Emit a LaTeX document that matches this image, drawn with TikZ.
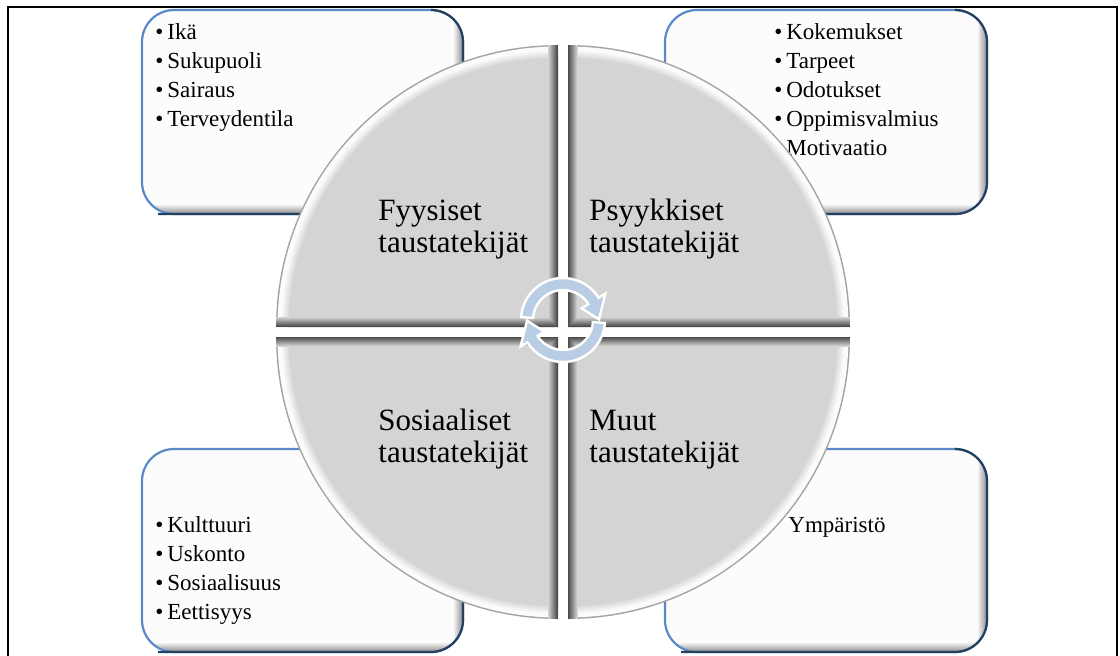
\documentclass[tikz,border=0pt]{standalone}
\usepackage{fontspec}
\setmainfont{Liberation Serif}
\usetikzlibrary{calc}
\definecolor{qFace}{HTML}{D4D4D4}
\definecolor{qRim}{HTML}{FBFBFB}
\definecolor{qEdge}{HTML}{A3A3A3}
\definecolor{qDark}{HTML}{3C3C3C}
\definecolor{bBlue}{HTML}{5A8AC6}
\definecolor{bNavy}{HTML}{24405F}
\definecolor{bFill}{HTML}{FCFCFC}
\definecolor{bShade}{HTML}{8A8A8A}
\definecolor{cBlue}{HTML}{B9CDE5}

\newcommand{\qR}{282}
% one bevelled quarter disc, corner at the origin, opening up and left
\newcommand{\quadface}{%
  \fill[qEdge] (0,0) -- (-\qR,0) arc[start angle=180, end angle=270, radius=\qR] -- cycle;
  \fill[qRim] (0,0) -- (-\qR+1.5,0) arc[start angle=180, end angle=270, radius=\qR-1.5] -- cycle;
  \foreach \j [evaluate=\j as \pc using int(100-12*\j)] in {0,...,8}
    \fill[qRim!\pc!qFace] (0,0) -- (-\qR+5+\j,0) arc[start angle=180, end angle=270, radius=\qR-5-\j] -- cycle;
  \begin{scope}
    \clip (0,0) -- (-\qR,0) arc[start angle=180, end angle=270, radius=\qR] -- cycle;
    \foreach \k [evaluate=\k as \pc using int(10*\k)] in {10,...,1} {
      \fill[qFace!\pc!qDark] (-\k,-\qR) rectangle (0,0);
      \fill[qFace!\pc!qDark] (-\qR,-\k) rectangle (0,0);
    }
  \end{scope}
  \begin{scope}
    \clip (-\qR,-\qR) rectangle (-10,-10);
    \fill[qFace] (0,0) -- (-\qR+13,0) arc[start angle=180, end angle=270, radius=\qR-13] -- cycle;
  \end{scope}
}
% #1 name, #2 #3 top left, #4 #5 bottom right
\newcommand{\infobox}[5]{%
  \coordinate (#1) at ({(#2+#4)/2},{(#3+#5)/2});
  \fill[bFill, rounded corners=16] (#2,#3) rectangle (#4,#5);
  \begin{scope}
    \clip[rounded corners=16] (#2,#3) rectangle (#4,#5);
    \foreach \k [evaluate=\k as \pc using int(10*\k)] in {10,...,1} {
      \fill[bFill!\pc!bShade] (#4-\k,#3) rectangle (#4,#5);
      \fill[bFill!\pc!bShade] (#2,#5-\k) rectangle (#4-\k,#5);
    }
  \end{scope}
  \draw[bBlue, line width=1.1pt, rounded corners=16] (#2,#3) rectangle (#4,#5);
  \draw[bNavy, line width=1.1pt, rounded corners=16] (#4-30,#3) -- (#4,#3) -- (#4,#5) -- (#2+16,#5);
}

\begin{document}
\begin{tikzpicture}[x=0.5pt, y=-0.5pt,
    item/.style={anchor=base west, inner sep=0pt, font=\fontsize{11.5}{14}\selectfont},
    qlabel/.style={anchor=base west, inner sep=0pt, font=\fontsize{15.5}{16}\selectfont},
    cyc/.style={fill=cBlue, draw=white, line width=1.2pt, line join=miter}]
  \useasboundingbox (0,0) rectangle (1120,655);
  \fill[white] (0,0) rectangle (1120,655);

  \infobox{fysBox}{142}{10}{463}{214}
  \infobox{psyBox}{665}{10}{987}{214}
  \infobox{sosBox}{142}{449}{463}{652}
  \infobox{muuBox}{665}{449}{987}{652}

  \foreach \t [count=\i from 0] in {Ikä,Sukupuoli,Sairaus,Terveydentila}
    \node[item] (fys-\i) at (167,39+29*\i) {\llap{\textbullet\hspace{2pt}}\t};
  \foreach \t [count=\i from 0] in {Kokemukset,Tarpeet,Odotukset,Oppimisvalmius}
    \node[item] (psy-\i) at (786,39+29*\i) {\llap{\textbullet\hspace{2pt}}\t};
  \node[item] (psy-4) at (786,155) {Motivaatio};
  \foreach \t [count=\i from 0] in {Kulttuuri,Uskonto,Sosiaalisuus,Eettisyys}
    \node[item] (sos-\i) at (167,532+29*\i) {\llap{\textbullet\hspace{2pt}}\t};
  \node[item] (muu-0) at (788,532) {Ympäristö};

  \begin{scope}[shift={(558,327)}] \quadface \end{scope}
  \begin{scope}[shift={(568,327)}, xscale=-1] \quadface \end{scope}
  \begin{scope}[shift={(558,337)}, yscale=-1] \quadface \end{scope}
  \begin{scope}[shift={(568,337)}, xscale=-1, yscale=-1] \quadface \end{scope}

  \node[qlabel] (fys) at (378,220) {\begin{tabular}[t]{@{}l@{}}Fyysiset\\taustatekijät\end{tabular}};
  \node[qlabel] (psy) at (589,220) {\begin{tabular}[t]{@{}l@{}}Psyykkiset\\taustatekijät\end{tabular}};
  \node[qlabel] (sos) at (378,430) {\begin{tabular}[t]{@{}l@{}}Sosiaaliset\\taustatekijät\end{tabular}};
  \node[qlabel] (muu) at (589,430) {\begin{tabular}[t]{@{}l@{}}Muut\\taustatekijät\end{tabular}};

  \coordinate (ca) at (563,320);
  \foreach \r in {0,180}
    \path[cyc, rotate around={\r:(563,332)}] ($(ca)+(184:42)$) arc[start angle=184, end angle=328, radius=42]
      -- ($(ca)+(328:50)$) -- ($(ca)+(359:36)$) -- ($(ca)+(328:22)$) -- ($(ca)+(328:30)$)
      arc[start angle=328, end angle=184, radius=30] -- cycle;

  \draw[line width=1pt] (8,7) rectangle (1117,670);
\end{tikzpicture}
\end{document}
